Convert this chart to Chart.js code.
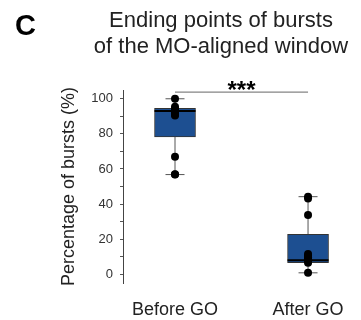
<!DOCTYPE html>
<html>
<head>
<meta charset="utf-8">
<script src="https://cdn.jsdelivr.net/npm/chart.js@4"></script>
<style>
  body { margin: 0; background: #fff; }
</style>
</head>
<body>
<canvas id="myChart" width="361" height="320"></canvas>
<script>
const categories = ['Before GO', 'After GO'];
const q1 = [78.3, 6.6];
const q3 = [94.6, 22.7];
const medians = [93.1, 8.0];
const whiskerLow = [56.8, 0.8];
const whiskerHigh = [100, 44.2];
const beforePoints = [100, 95.5, 94.5, 93.5, 93, 92.5, 92, 91.5, 91, 90.5, 67, 57, 56.8];
const afterPoints = [44.2, 43.2, 33.7, 11.5, 10.5, 9.5, 8.5, 7.5, 6.6, 0.8];
const yTicks = [0, 10, 20, 30, 40, 50, 60, 70, 80, 90, 100];
const sigLevel = 103.8;

const font = 'Liberation Sans, Arial, sans-serif';
const boxBlue = '#1d4f91';

const pos = categories.map((c, i) => i + 1);

// whisker stems, drawn behind the boxes
const stems = pos.map((x, i) => ({
    type: 'line',
    data: [{ x: x, y: whiskerLow[i] }, { x: x, y: whiskerHigh[i] }],
    borderColor: '#555',
    borderWidth: 1,
    pointRadius: 0,
    order: 5
}));

const extraText = {
    id: 'extraText',
    afterDraw(chart) {
        const ctx = chart.ctx;
        const xs = chart.scales.x;
        const ys = chart.scales.y;
        ctx.save();
        ctx.fillStyle = '#000';
        ctx.font = 'bold 29px ' + font;
        ctx.textAlign = 'left';
        ctx.fillText('C', 15, 35);
        ctx.fillStyle = '#222';
        ctx.font = '22px ' + font;
        ctx.textAlign = 'center';
        ctx.fillText('Ending points of bursts', 221, 27);
        ctx.fillText('of the MO-aligned window', 221, 53);
        ctx.font = 'bold 24px ' + font;
        ctx.fillStyle = '#000';
        ctx.fillText('***', xs.getPixelForValue(1.5), ys.getPixelForValue(sigLevel) + 6);
        ctx.restore();
    }
};

const ctx = document.getElementById('myChart').getContext('2d');

const chart = new Chart(ctx, {
    type: 'bar',
    data: {
        datasets: [
            ...stems,
            {
                type: 'bar',
                data: pos.map((x, i) => ({ x: x, y: [q1[i], q3[i]] })),
                backgroundColor: boxBlue,
                borderColor: '#333',
                borderWidth: 1,
                borderSkipped: false,
                barThickness: 41,
                order: 4
            },
            {
                type: 'scatter',
                data: pos.flatMap((x, i) => [{ x: x, y: whiskerLow[i] }, { x: x, y: whiskerHigh[i] }]),
                pointStyle: 'line',
                pointRadius: 9.5,
                borderColor: '#555',
                borderWidth: 1,
                order: 3
            },
            {
                type: 'line',
                data: [{ x: 1, y: sigLevel }, { x: 2, y: sigLevel }],
                borderColor: '#666',
                borderWidth: 1,
                pointRadius: 0,
                order: 3
            },
            {
                type: 'scatter',
                data: pos.map((x, i) => ({ x: x, y: medians[i] })),
                pointStyle: 'line',
                pointRadius: 20.5,
                borderColor: '#000',
                borderWidth: 2,
                order: 2
            },
            {
                type: 'scatter',
                data: beforePoints.map(v => ({ x: 1, y: v })).concat(afterPoints.map(v => ({ x: 2, y: v }))),
                pointRadius: 4,
                backgroundColor: '#000',
                borderColor: '#000',
                borderWidth: 0,
                order: 1
            }
        ]
    },
    options: {
        responsive: false,
        animation: false,
        layout: { autoPadding: false, padding: { top: 90, right: 6, left: 0, bottom: 0 } },
        plugins: {
            legend: { display: false },
            tooltip: { enabled: false }
        },
        scales: {
            x: {
                type: 'linear',
                min: 0.609,
                max: 2.353,
                offset: false,
                grid: { display: false },
                border: { display: false },
                afterBuildTicks: s => { s.ticks = pos.map(v => ({ value: v })); },
                afterFit: s => { s.height = 37; s.paddingLeft = 0; s.paddingRight = 0; },
                ticks: {
                    padding: 8,
                    color: '#222',
                    font: { family: font, size: 18 },
                    callback: v => categories[v - 1]
                }
            },
            y: {
                min: -5,
                max: 105,
                grid: {
                    drawOnChartArea: false,
                    drawTicks: true,
                    tickLength: 3,
                    color: '#555'
                },
                border: { display: true, color: '#444', width: 1 },
                afterBuildTicks: s => { s.ticks = yTicks.map(v => ({ value: v })); },
                afterFit: s => { s.width = 123; s.paddingTop = 0; s.paddingBottom = 0; },
                ticks: {
                    padding: 7,
                    color: '#333',
                    font: { family: font, size: 13 },
                    callback: v => (v % 20 === 0 ? String(v) : '')
                },
                title: {
                    display: true,
                    text: 'Percentage of bursts (%)',
                    color: '#222',
                    font: { family: font, size: 18 },
                    padding: { top: 58, bottom: 0 }
                }
            }
        }
    },
    plugins: [extraText]
});
</script>
</body>
</html>
